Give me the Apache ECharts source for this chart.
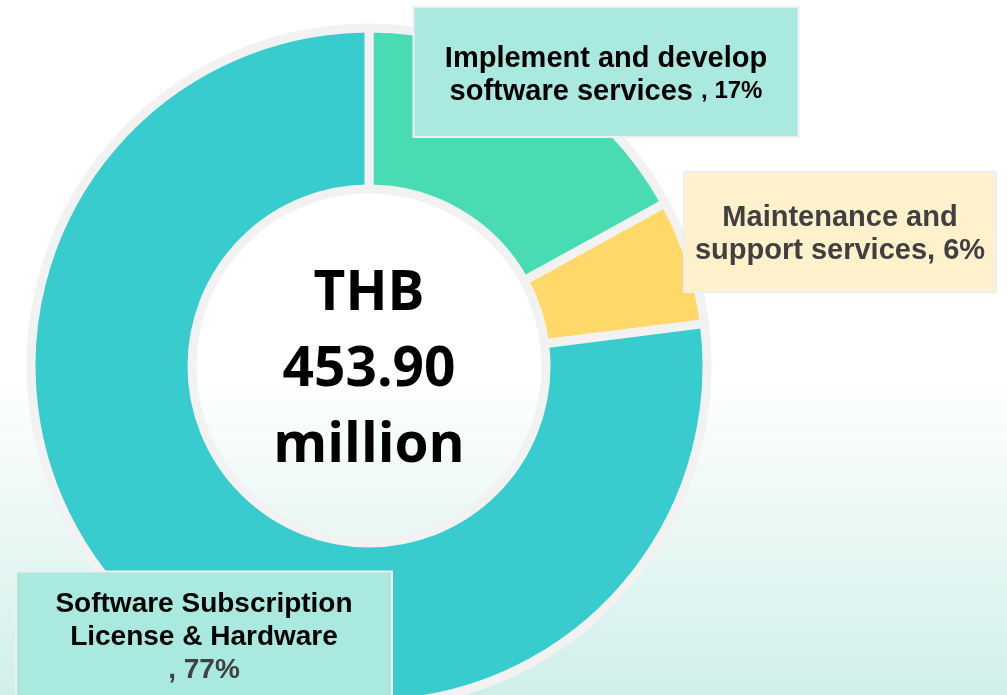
<!DOCTYPE html>
<html>
<head>
<meta charset="utf-8">
<script src="https://cdn.jsdelivr.net/npm/echarts@6/dist/echarts.min.js"></script>
<style>
    html, body { margin: 0; padding: 0; }
    #chart {
        width: 1007px;
        height: 695px;
        background: linear-gradient(to bottom, #ffffff 0%, #ffffff 54%, #eef9f7 72%, #d0efe9 100%);
    }
</style>
</head>
<body>
<div id="chart"></div>
<script>
// revenue split, percent
var segments = ['Implement and develop software services', 'Maintenance and support services', 'Software Subscription License & Hardware']
var shares = [17, 6, 77]
var colors = ['#48dbb4', '#fed96a', '#38ccce']
var centerLines = ['THB', '453.90', 'million']

// label box spots (center x, y)
var boxes = [
    {x: 606, y: 72},
    {x: 840, y: 232},
    {x: 204, y: 637}
]

var chart = echarts.init(document.getElementById('chart'))

var formatters = [
    function (p) { return '{a|Implement and develop}\n{a|software services }{b|, ' + p.value + '%}' },
    function (p) { return '{c|Maintenance and}\n{c|support services, ' + p.value + '%}' },
    function (p) { return '{s|Software Subscription}\n{s|License & Hardware}\n{d|, ' + p.value + '%}' }
]

var labelStyles = [
    {width: 383, padding: [34, 0, 28, 0], backgroundColor: '#aae9df', borderColor: '#efefef'},
    {width: 310, padding: [28, 0, 24, 0], backgroundColor: '#fff1cb', borderColor: '#efefef'},
    {width: 374, padding: [15, 0, 15, 0], backgroundColor: '#aae9df', borderColor: '#efefef'}
]

var rich = {
    a: {fontFamily: 'Liberation Sans', fontWeight: 'bold', fontSize: 29, lineHeight: 33, color: '#000'},
    b: {fontFamily: 'Liberation Sans', fontWeight: 'bold', fontSize: 24, lineHeight: 33, color: '#000'},
    c: {fontFamily: 'Liberation Sans', fontWeight: 'bold', fontSize: 29, lineHeight: 33, color: '#404040'},
    s: {fontFamily: 'Liberation Sans', fontWeight: 'bold', fontSize: 28, lineHeight: 33, color: '#000'},
    d: {fontFamily: 'Liberation Sans', fontWeight: 'bold', fontSize: 28, lineHeight: 33, color: '#404040'}
}

var data = segments.map(function (name, i) {
    return {
        name: name,
        value: shares[i],
        itemStyle: {color: colors[i]},
        label: Object.assign({
            formatter: formatters[i],
            rich: rich,
            align: 'center',
            verticalAlign: 'middle',
            borderWidth: 2
        }, labelStyles[i])
    }
})

var option = {
    animation: false,
    series: [
        {
            type: 'pie',
            center: [369, 366],
            radius: [177, 338],
            startAngle: 90,
            clockwise: true,
            avoidLabelOverlap: false,
            emphasis: {disabled: true},
            itemStyle: {
                borderColor: '#f2f2f2',
                borderWidth: 9
            },
            label: {show: true, position: 'outside'},
            labelLine: {show: false},
            labelLayout: function (params) {
                var b = boxes[params.dataIndex]
                return {x: b.x, y: b.y, align: 'center', verticalAlign: 'middle'}
            },
            data: data
        }
    ],
    graphic: [
        {
            type: 'text',
            x: 369,
            y: 370,
            silent: true,
            style: {
                text: centerLines.join('\n'),
                fontFamily: 'Open Sans',
                fontWeight: 'bold',
                fontSize: 55,
                lineHeight: 76,
                fill: '#000',
                align: 'center',
                verticalAlign: 'middle'
            }
        }
    ]
}

chart.setOption(option)
</script>
</body>
</html>
